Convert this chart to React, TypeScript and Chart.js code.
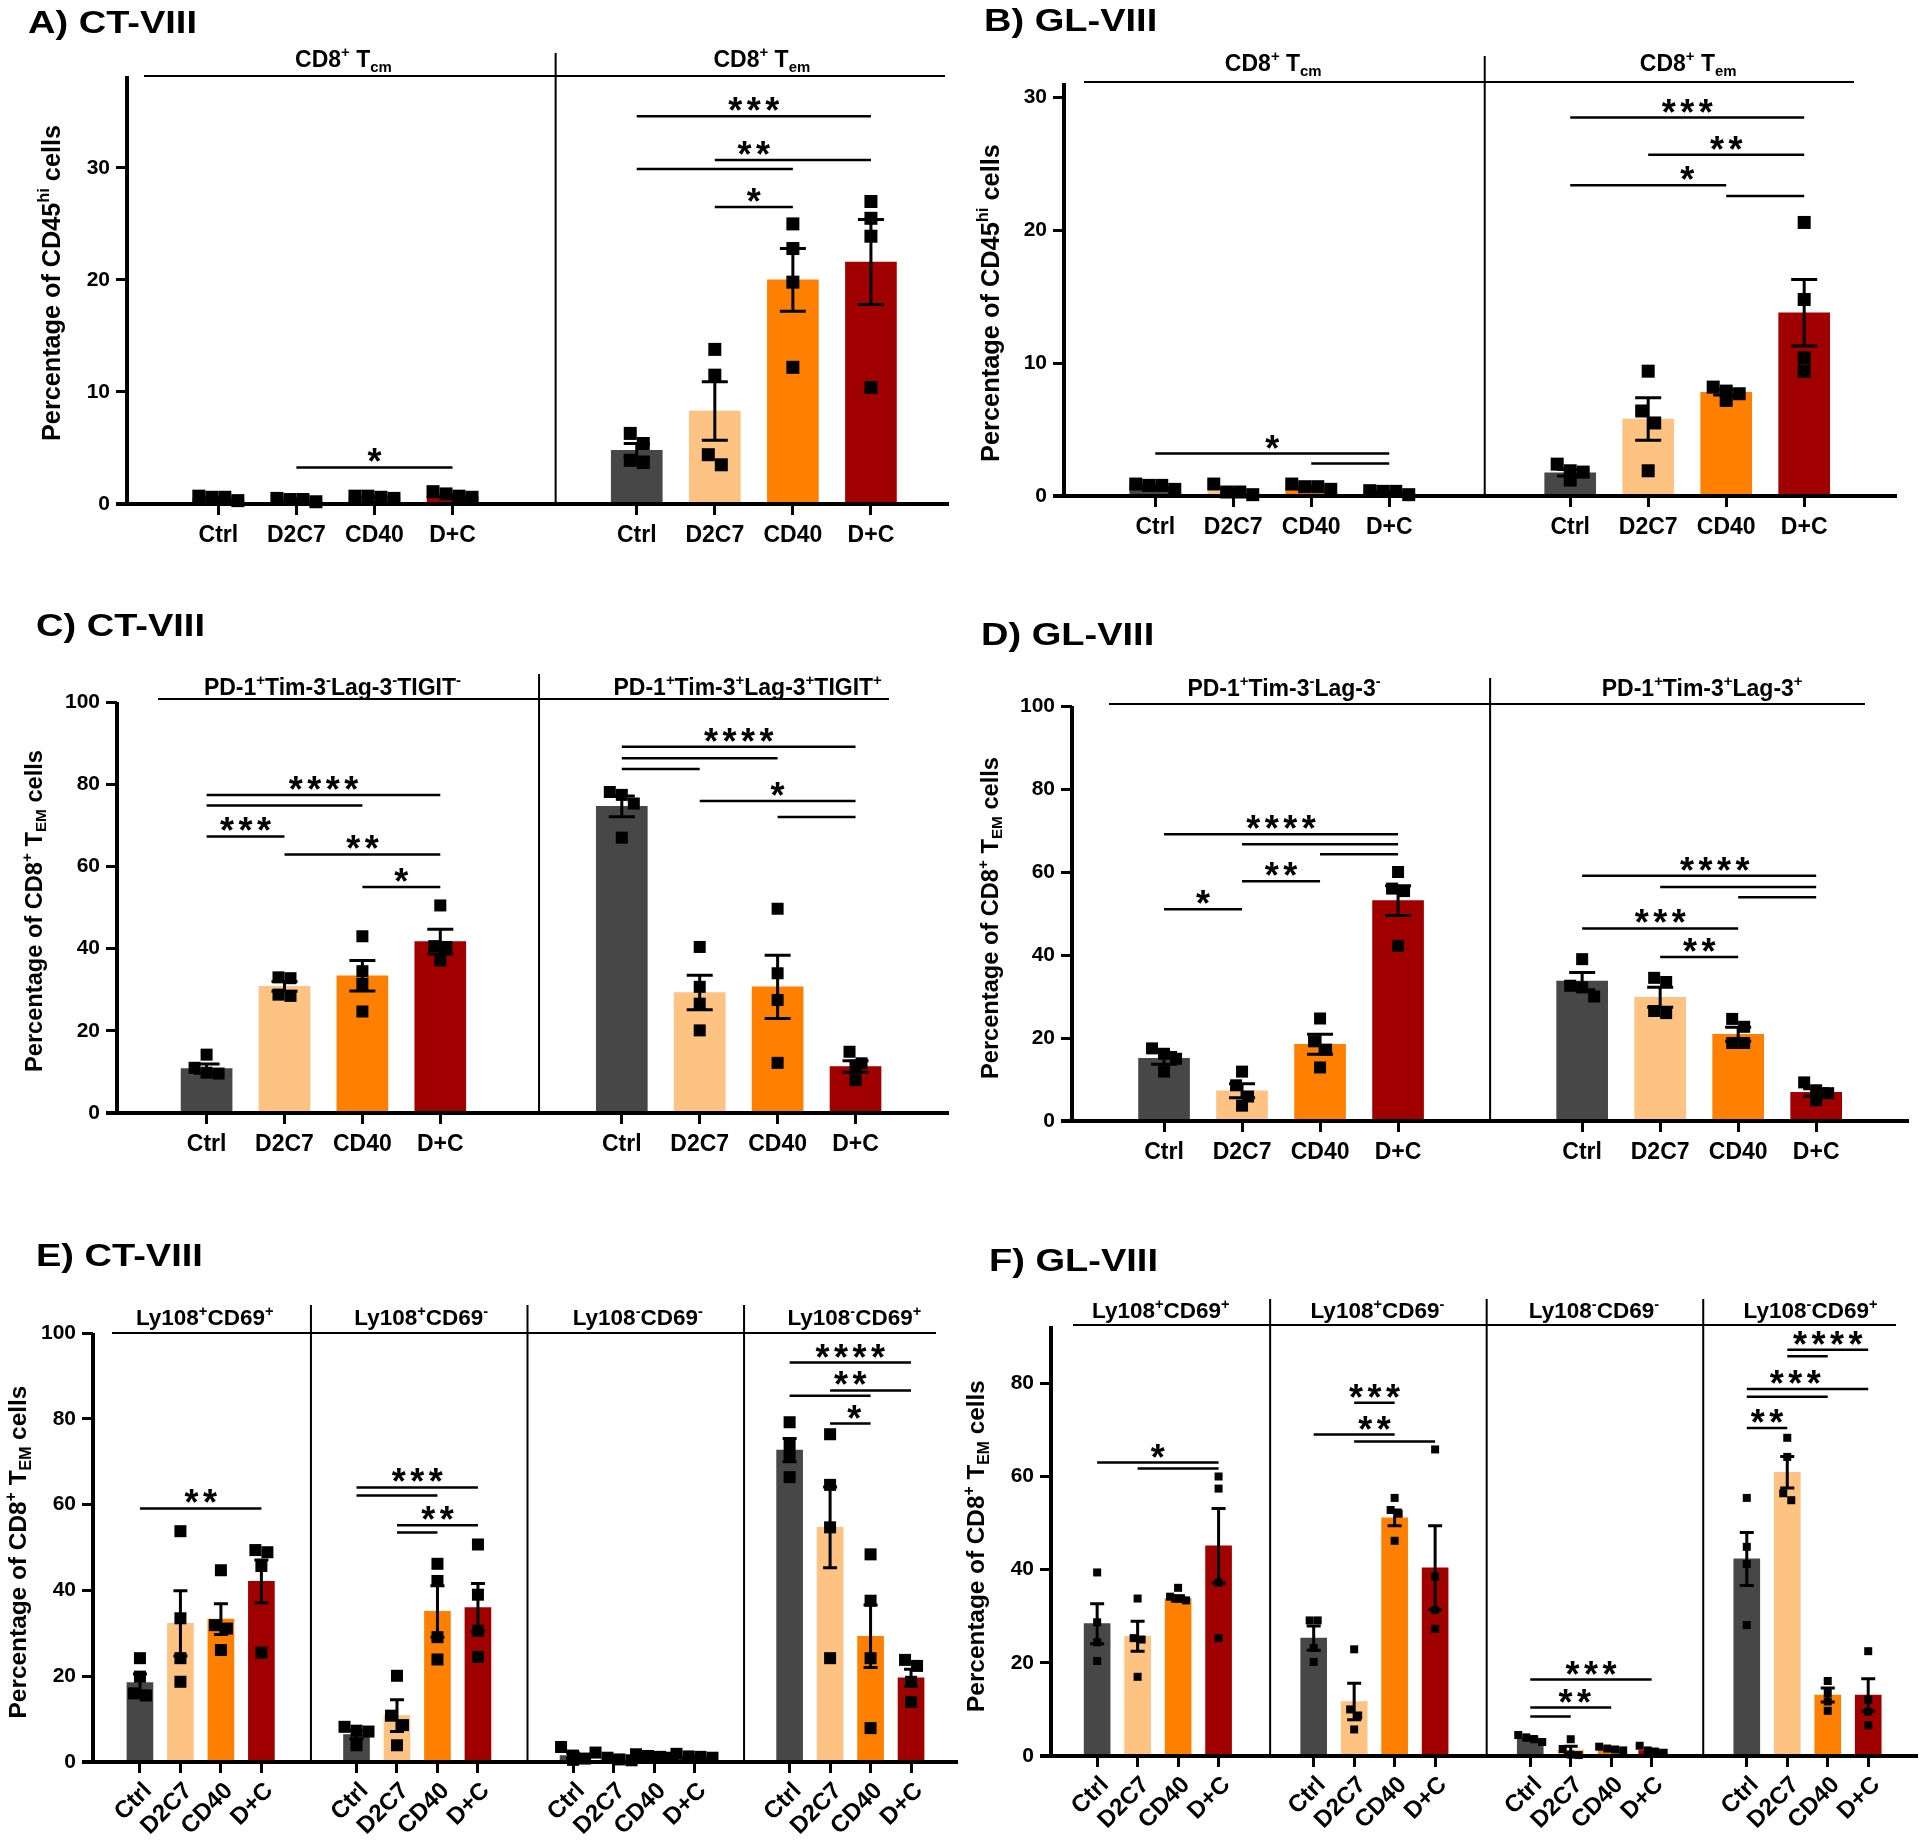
import React, { useEffect, useRef } from "react";
import { Chart, registerables } from "chart.js";
Chart.register(...registerables);

const FONT = "'Liberation Sans', Arial, Helvetica, sans-serif";
const TREATMENTS = ["Ctrl", "D2C7", "CD40", "D+C"];
const BAR_COLORS = ["#474747", "#FEC283", "#FF8000", "#A10000"];
const YTITLE_CD45 = "Percentage of CD45{^hi} cells";
const YTITLE_TEM = "Percentage of CD8{^+} T{_EM} cells";

// ---------- Panel A ----------
const A_TITLE = "A) CT-VIII";
const A_HEADERS = ["CD8{^+} T{_cm}", "CD8{^+} T{_em}"];
const A_YTICKS = [0, 10, 20, 30];
const A_MEAN = [[0.5, 0.4, 0.6, 0.7], [4.8, 8.3, 20.0, 21.6]];
const A_SEM = [[0.1, 0.1, 0.05, 0.15], [0.6, 2.6, 2.8, 3.8]];
const A_POINTS = [
  [[0.3, 0.7, 0.6, 0.6], [0.2, 0.5, 0.4, 0.4], [0.5, 0.7, 0.6, 0.7], [0.6, 1.1, 0.7, 0.9]],
  [[6.3, 5.4, 3.9, 3.7], [13.8, 11.5, 4.4, 3.5], [25.0, 22.8, 19.8, 12.2], [27.0, 25.5, 23.9, 10.4]],
];
const A_SIG = [[0, 1, 3, 3.26], [1, 0, 3, 34.6], [1, 1, 3, 30.7], [1, 0, 2, 29.9], [1, 1, 2, 26.5]];
const A_STARS: [number, number, number, string][] = [[0, 2, 3.26, "*"], [1, 1.5, 34.6, "***"], [1, 1.5, 30.7, "**"], [1, 1.5, 26.5, "*"]];

// ---------- Panel B ----------
const B_TITLE = "B) GL-VIII";
const B_HEADERS = ["CD8{^+} T{_cm}", "CD8{^+} T{_em}"];
const B_YTICKS = [0, 10, 20, 30];
const B_MEAN = [[0.7, 0.35, 0.6, 0.3], [1.75, 5.8, 7.8, 13.8]];
const B_SEM = [[0.1, 0.2, 0.1, 0.08], [0.25, 1.6, 0.2, 2.5]];
const B_POINTS = [
  [[0.5, 0.9, 0.8, 0.8], [0.1, 0.9, 0.3, 0.3], [0.5, 0.9, 0.7, 0.7], [0.1, 0.4, 0.35, 0.35]],
  [[2.4, 1.2, 1.9, 1.8], [9.4, 6.4, 5.5, 1.9], [8.2, 7.2, 7.9, 7.7], [20.6, 14.8, 10.4, 9.4]],
];
const B_SIG = [[0, 0, 3, 3.2], [0, 2, 3, 2.45], [1, 0, 3, 28.5], [1, 1, 3, 25.7], [1, 0, 2, 23.4], [1, 2, 3, 22.6]];
const B_STARS: [number, number, number, string][] = [[0, 1.5, 3.2, "*"], [1, 1.5, 28.5, "***"], [1, 2, 25.7, "**"], [1, 1.5, 23.4, "*"]];

// ---------- Panel C ----------
const C_TITLE = "C) CT-VIII";
const C_HEADERS = ["PD-1{^+}Tim-3{^-}Lag-3{^-}TIGIT{^-}", "PD-1{^+}Tim-3{^+}Lag-3{^+}TIGIT{^+}"];
const C_YTICKS = [0, 20, 40, 60, 80, 100];
const C_MEAN = [[10.8, 30.8, 33.4, 41.7], [74.6, 29.3, 30.7, 11.3]];
const C_SEM = [[1.1, 1.2, 3.7, 3.0], [2.5, 4.2, 7.7, 1.4]];
const C_POINTS = [
  [[14.2, 11.0, 9.8, 9.6], [33.0, 32.8, 28.8, 28.5], [43.0, 34.5, 31.4, 24.7], [50.5, 40.6, 40.4, 37.1]],
  [[78.1, 77.4, 75.3, 67.0], [40.4, 30.7, 26.6, 20.1], [49.7, 34.0, 27.5, 12.2], [14.9, 12.1, 11.5, 8.0]],
];
const C_SIG = [[0, 0, 3, 77.4], [0, 0, 2, 74.8], [0, 0, 1, 67.3], [0, 1, 3, 62.9], [0, 2, 3, 55.0], [1, 0, 3, 89.1], [1, 0, 2, 86.3], [1, 0, 1, 83.7], [1, 1, 3, 75.9], [1, 2, 3, 72.0]];
const C_STARS: [number, number, number, string][] = [[0, 1.5, 77.4, "****"], [0, 0.5, 67.3, "***"], [0, 2, 62.9, "**"], [0, 2.5, 55.0, "*"], [1, 1.5, 89.1, "****"], [1, 2, 75.9, "*"]];

// ---------- Panel D ----------
const D_TITLE = "D) GL-VIII";
const D_HEADERS = ["PD-1{^+}Tim-3{^-}Lag-3{^-}", "PD-1{^+}Tim-3{^+}Lag-3{^+}"];
const D_YTICKS = [0, 20, 40, 60, 80, 100];
const D_MEAN = [[15.1, 7.3, 18.5, 53.1], [33.7, 29.8, 20.9, 6.9]];
const D_SEM = [[1.4, 1.7, 2.4, 3.6], [2.1, 2.4, 1.7, 0.9]];
const D_POINTS = [
  [[17.5, 16.2, 15.0, 11.9], [11.9, 8.6, 5.9, 3.7], [24.7, 19.2, 17.2, 12.9], [60.0, 56.0, 55.4, 42.2]],
  [[39.0, 32.6, 32.2, 30.0], [34.5, 33.5, 26.0, 26.5], [24.6, 22.7, 18.8, 18.8], [9.3, 7.4, 6.7, 5.0]],
];
const D_SIG = [[0, 0, 3, 69.1], [0, 1, 3, 66.7], [0, 2, 3, 64.3], [0, 1, 2, 57.8], [0, 0, 1, 51.0], [1, 0, 3, 59.1], [1, 1, 3, 56.4], [1, 2, 3, 53.9], [1, 0, 2, 46.4], [1, 1, 2, 39.5]];
const D_STARS: [number, number, number, string][] = [[0, 1.5, 69.1, "****"], [0, 1.5, 57.8, "**"], [0, 0.5, 51.0, "*"], [1, 1.7, 59.1, "****"], [1, 1, 46.4, "***"], [1, 1.5, 39.5, "**"]];

// ---------- Panel E ----------
const E_TITLE = "E) CT-VIII";
const E_HEADERS = ["Ly108{^+}CD69{^+}", "Ly108{^+}CD69{^-}", "Ly108{^-}CD69{^-}", "Ly108{^-}CD69{^+}"];
const E_YTICKS = [0, 20, 40, 60, 80, 100];
const E_MEAN = [[18.5, 32.3, 33.3, 42.1], [6.4, 10.8, 35.1, 36.0], [1.5, 1.0, 1.3, 1.3], [72.7, 54.7, 29.3, 19.6]];
const E_SEM = [[2.0, 7.6, 3.6, 5.0], [1.0, 3.7, 6.0, 5.6], [0.6, 0.4, 0.2, 0.2], [2.7, 9.4, 7.3, 2.0]];
const E_POINTS = [
  [[24.2, 19.9, 16.0, 15.5], [53.8, 33.5, 24.2, 18.7], [44.7, 31.9, 31.1, 26.1], [49.4, 48.9, 45.7, 25.5]],
  [[8.2, 7.3, 7.1, 3.9], [20.1, 10.8, 8.6, 3.9], [46.2, 42.2, 29.1, 23.9], [50.7, 39.0, 30.6, 24.5]],
  [[3.5, 1.5, 0.8, 0.5], [2.2, 1.0, 0.6, 0.4], [1.8, 1.4, 1.2, 1.0], [1.9, 1.3, 1.2, 1.0]],
  [[79.2, 74.1, 71.3, 66.4], [76.4, 64.6, 54.7, 24.2], [48.4, 37.6, 24.2, 7.9], [23.8, 22.4, 18.7, 14.0]],
];
const E_SIG = [[0, 0, 3, 59.1], [1, 0, 3, 64.0], [1, 0, 2, 62.1], [1, 1, 3, 55.2], [1, 1, 2, 53.5], [3, 0, 3, 93.1], [3, 1, 3, 86.6], [3, 0, 2, 85.4], [3, 1, 2, 78.9]];
const E_STARS: [number, number, number, string][] = [[0, 1.5, 59.1, "**"], [1, 1.5, 64.0, "***"], [1, 2, 55.2, "**"], [3, 1.5, 93.1, "****"], [3, 1.5, 86.6, "**"], [3, 1.6, 78.9, "*"]];

// ---------- Panel F ----------
const F_TITLE = "F) GL-VIII";
const F_HEADERS = ["Ly108{^+}CD69{^+}", "Ly108{^+}CD69{^-}", "Ly108{^-}CD69{^-}", "Ly108{^-}CD69{^+}"];
const F_YTICKS = [0, 20, 40, 60, 80];
const F_MEAN = [[28.4, 25.7, 33.8, 45.1], [25.3, 11.7, 51.1, 40.4], [3.8, 1.3, 1.5, 1.2], [42.3, 60.9, 13.1, 13.1]];
const F_SEM = [[4.3, 3.2, 0.6, 8.0], [2.6, 3.9, 1.7, 9.0], [0.4, 0.8, 0.2, 0.3], [5.7, 3.4, 1.5, 3.5]];
const F_POINTS = [
  [[39.4, 28.7, 24.4, 20.4], [33.8, 25.3, 25.0, 17.0], [36.1, 34.2, 33.8, 33.4], [60.0, 57.4, 37.2, 25.3]],
  [[29.1, 29.1, 23.2, 20.2], [22.9, 10.0, 8.7, 5.7], [55.4, 52.8, 52.0, 46.2], [65.8, 38.5, 31.3, 27.3]],
  [[4.5, 4.0, 3.6, 3.0], [3.6, 1.5, 0.3, 0.2], [2.0, 1.6, 1.4, 1.2], [2.2, 1.2, 0.8, 0.7]],
  [[55.4, 44.9, 41.2, 28.1], [68.3, 64.2, 56.4, 54.9], [16.1, 13.5, 11.7, 9.7], [22.5, 12.1, 9.5, 6.6]],
];
const F_SIG = [[0, 0, 3, 63.0], [0, 1, 3, 61.7], [1, 1, 2, 75.8], [1, 0, 2, 69.0], [1, 1, 3, 67.5], [2, 0, 3, 16.4], [2, 0, 2, 10.4], [2, 0, 1, 8.5], [3, 1, 3, 87.2], [3, 1, 2, 85.8], [3, 0, 3, 78.8], [3, 0, 2, 77.1], [3, 0, 1, 70.4]];
const F_STARS: [number, number, number, string][] = [[0, 1.5, 63.0, "*"], [1, 1.5, 75.8, "***"], [1, 1.5, 69.0, "**"], [2, 1.5, 16.4, "***"], [2, 1.1, 10.4, "**"], [3, 2, 87.2, "****"], [3, 1.2, 78.8, "***"], [3, 0.5, 70.4, "**"]];

// ---------- layout (page pixel geometry) ----------
type Layout = {
  ox: number; oy: number; w: number; h: number;
  plot: [number, number, number, number];
  ymax: number; period: number; padL: number; padR: number;
  barW: number; pt: number; cap: number;
  title: [number, number]; yTitle: [number, number, number];
  hdrY: number; hdrLine: [number, number]; hdrBase: number; hdrShift: number; hdrFont: number;
  sepTop: number; sepShift: number; xFont: number; rot: number; xPad: number; xShift: number;
};

const LAYOUT_A: Layout = { ox: 0, oy: 0, w: 960, h: 600, plot: [127, 76, 949, 504], ymax: 38.2, period: 5.36, padL: 1.17, padR: 1.0, barW: 51, pt: 13, cap: 26, title: [28, 33], yTitle: [51, 283, 316], hdrY: 76, hdrLine: [144, 945], hdrBase: 67, hdrShift: 8, hdrFont: 23, sepTop: 53, sepShift: 11, xFont: 23, rot: 0, xPad: 7, xShift: 0 };
const LAYOUT_B: Layout = { ox: 960, oy: 0, w: 960, h: 600, plot: [1064, 83, 1897, 496], ymax: 31.1, period: 5.32, padL: 1.17, padR: 1.19, barW: 51, pt: 13, cap: 26, title: [984, 31], yTitle: [990, 303, 318], hdrY: 82, hdrLine: [1084, 1854], hdrBase: 71, hdrShift: 1, hdrFont: 23, sepTop: 56, sepShift: 5, xFont: 23, rot: 0, xPad: 7, xShift: 0 };
const LAYOUT_C: Layout = { ox: 0, oy: 600, w: 960, h: 620, plot: [117, 702, 949, 1113], ymax: 100, period: 5.33, padL: 1.15, padR: 1.2, barW: 51, pt: 12, cap: 26, title: [36, 636], yTitle: [33, 911, 322], hdrY: 699, hdrLine: [158, 889], hdrBase: 695, hdrShift: 9, hdrFont: 23, sepTop: 674, sepShift: 8, xFont: 23, rot: 0, xPad: 7, xShift: 0 };
const LAYOUT_D: Layout = { ox: 960, oy: 600, w: 960, h: 620, plot: [1072, 706, 1909, 1121], ymax: 100, period: 5.36, padL: 1.18, padR: 1.19, barW: 51, pt: 12, cap: 26, title: [981, 645], yTitle: [989, 918, 322], hdrY: 704, hdrLine: [1109, 1865], hdrBase: 696, hdrShift: 3, hdrFont: 23, sepTop: 678, sepShift: 0, xFont: 23, rot: 0, xPad: 7, xShift: 0 };
const LAYOUT_E: Layout = { ox: 0, oy: 1220, w: 960, h: 622, plot: [93, 1333, 958, 1762], ymax: 100, period: 5.35, padL: 1.16, padR: 1.16, barW: 26, pt: 12, cap: 14, title: [36, 1266], yTitle: [17, 1552, 333], hdrY: 1333, hdrLine: [112, 936], hdrBase: 1325, hdrShift: 4, hdrFont: 22.5, sepTop: 1305, sepShift: 2, xFont: 24, rot: 45, xPad: 4, xShift: 8 };
const LAYOUT_F: Layout = { ox: 960, oy: 1220, w: 960, h: 622, plot: [1051, 1326, 1918, 1756], ymax: 92.3, period: 5.35, padL: 1.14, padR: 1.23, barW: 26, pt: 8, cap: 14, title: [989, 1271], yTitle: [975, 1546, 332], hdrY: 1325, hdrLine: [1073, 1896], hdrBase: 1318, hdrShift: 3, hdrFont: 22.5, sepTop: 1299, sepShift: 4, xFont: 24, rot: 45, xPad: 4, xShift: 8 };

type PanelCfg = {
  title: string; headers: string[]; yTitle: string; yTicks: number[];
  mean: number[][]; sem: number[][]; points: number[][][];
  sig: number[][]; stars: [number, number, number, string][]; L: Layout;
};

const PANELS: PanelCfg[] = [
  { title: A_TITLE, headers: A_HEADERS, yTitle: YTITLE_CD45, yTicks: A_YTICKS, mean: A_MEAN, sem: A_SEM, points: A_POINTS, sig: A_SIG, stars: A_STARS, L: LAYOUT_A },
  { title: B_TITLE, headers: B_HEADERS, yTitle: YTITLE_CD45, yTicks: B_YTICKS, mean: B_MEAN, sem: B_SEM, points: B_POINTS, sig: B_SIG, stars: B_STARS, L: LAYOUT_B },
  { title: C_TITLE, headers: C_HEADERS, yTitle: YTITLE_TEM, yTicks: C_YTICKS, mean: C_MEAN, sem: C_SEM, points: C_POINTS, sig: C_SIG, stars: C_STARS, L: LAYOUT_C },
  { title: D_TITLE, headers: D_HEADERS, yTitle: YTITLE_TEM, yTicks: D_YTICKS, mean: D_MEAN, sem: D_SEM, points: D_POINTS, sig: D_SIG, stars: D_STARS, L: LAYOUT_D },
  { title: E_TITLE, headers: E_HEADERS, yTitle: YTITLE_TEM, yTicks: E_YTICKS, mean: E_MEAN, sem: E_SEM, points: E_POINTS, sig: E_SIG, stars: E_STARS, L: LAYOUT_E },
  { title: F_TITLE, headers: F_HEADERS, yTitle: YTITLE_TEM, yTicks: F_YTICKS, mean: F_MEAN, sem: F_SEM, points: F_POINTS, sig: F_SIG, stars: F_STARS, L: LAYOUT_F },
];

// ---------- rich text helpers ----------
type Seg = { t: string; k: "n" | "sup" | "sub" };
function parseRich(s: string): Seg[] {
  const out: Seg[] = [];
  const re = /\{([\^_])([^}]*)\}/g;
  let last = 0;
  let m: RegExpExecArray | null;
  while ((m = re.exec(s))) {
    if (m.index > last) out.push({ t: s.slice(last, m.index), k: "n" });
    out.push({ t: m[2], k: m[1] === "^" ? "sup" : "sub" });
    last = re.lastIndex;
  }
  if (last < s.length) out.push({ t: s.slice(last), k: "n" });
  return out;
}
function segFont(k: string, fs: number) {
  return `bold ${k === "n" ? fs : fs * 0.65}px ${FONT}`;
}
function richWidth(ctx: CanvasRenderingContext2D, segs: Seg[], fs: number) {
  let w = 0;
  for (const s of segs) { ctx.font = segFont(s.k, fs); w += ctx.measureText(s.t).width; }
  return w;
}
function drawRich(ctx: CanvasRenderingContext2D, segs: Seg[], x: number, y: number, fs: number) {
  const w = richWidth(ctx, segs, fs);
  let cx = x - w / 2;
  ctx.textAlign = "left";
  ctx.textBaseline = "alphabetic";
  for (const s of segs) {
    ctx.font = segFont(s.k, fs);
    const dy = s.k === "sup" ? -0.42 * fs : s.k === "sub" ? 0.2 * fs : 0;
    ctx.fillText(s.t, cx, y + dy);
    cx += ctx.measureText(s.t).width;
  }
}

const STAR_FS = 36;
const STAR_PITCH = 18.5;

function drawPanel(chart: any, cfg: PanelCfg) {
  const ctx: CanvasRenderingContext2D = chart.ctx;
  const xs = chart.scales.x;
  const ys = chart.scales.y;
  const L = cfg.L;
  const ca = chart.chartArea;
  const lx = (v: number) => v - L.ox;
  const ly = (v: number) => v - L.oy;
  const px = (g: number, i: number) => xs.getPixelForValue(g * L.period + i);
  const py = (v: number) => ys.getPixelForValue(v);
  const nG = cfg.mean.length;
  ctx.save();

  // scatter points (spread horizontally when overlapping)
  ctx.fillStyle = "#000";
  for (let g = 0; g < nG; g++) {
    for (let i = 0; i < 4; i++) {
      const cx = px(g, i);
      const vals = cfg.points[g][i].map((v) => ({ v, y: py(v) })).sort((a, b) => a.y - b.y);
      const rows: { v: number; y: number }[][] = [];
      for (const p of vals) {
        const r = rows[rows.length - 1];
        if (r && Math.abs(p.y - r[0].y) < L.pt) r.push(p);
        else rows.push([p]);
      }
      for (const r of rows) {
        r.forEach((p, j) => {
          const ox = (j - (r.length - 1) / 2) * L.pt;
          ctx.fillRect(cx + ox - L.pt / 2, p.y - L.pt / 2, L.pt, L.pt);
        });
      }
    }
  }

  // error bars
  ctx.strokeStyle = "#000";
  ctx.lineWidth = 3;
  for (let g = 0; g < nG; g++) {
    for (let i = 0; i < 4; i++) {
      const cx = px(g, i);
      const m = cfg.mean[g][i];
      const s = cfg.sem[g][i];
      const y1 = py(m + s);
      const y2 = py(Math.max(0, m - s));
      ctx.beginPath();
      ctx.moveTo(cx, y1); ctx.lineTo(cx, y2);
      ctx.moveTo(cx - L.cap / 2, y1); ctx.lineTo(cx + L.cap / 2, y1);
      ctx.moveTo(cx - L.cap / 2, y2); ctx.lineTo(cx + L.cap / 2, y2);
      ctx.stroke();
    }
  }

  // axes
  ctx.lineWidth = 4;
  ctx.beginPath();
  ctx.moveTo(ca.left, ca.top); ctx.lineTo(ca.left, ca.bottom + 2);
  ctx.moveTo(ca.left - 11, ca.bottom); ctx.lineTo(ca.right, ca.bottom);
  ctx.stroke();

  // header line and separators
  ctx.lineWidth = 2;
  ctx.beginPath();
  ctx.moveTo(lx(L.hdrLine[0]), ly(L.hdrY)); ctx.lineTo(lx(L.hdrLine[1]), ly(L.hdrY));
  for (let g = 1; g < nG; g++) {
    const sx = (px(g - 1, 3) + px(g, 0)) / 2 + L.sepShift;
    ctx.moveTo(sx, ly(L.sepTop)); ctx.lineTo(sx, ca.bottom);
  }
  ctx.stroke();

  // header labels
  ctx.fillStyle = "#000";
  for (let g = 0; g < nG; g++) {
    const cx = (px(g, 0) + px(g, 3)) / 2 + L.hdrShift;
    drawRich(ctx, parseRich(cfg.headers[g]), cx, ly(L.hdrBase), L.hdrFont);
  }

  // significance lines
  ctx.lineWidth = 2.5;
  ctx.beginPath();
  for (const [g, a, b, v] of cfg.sig) {
    const y = py(v);
    ctx.moveTo(px(g, a), y); ctx.lineTo(px(g, b), y);
  }
  ctx.stroke();

  // stars
  ctx.font = `bold ${STAR_FS}px ${FONT}`;
  ctx.textAlign = "center";
  ctx.textBaseline = "alphabetic";
  const sm = ctx.measureText("*");
  const above = -sm.actualBoundingBoxDescent;
  for (const [g, xi, v, txt] of cfg.stars) {
    const cx = xs.getPixelForValue(g * L.period + xi);
    const base = py(v) - 5 + above;
    const n = txt.length;
    for (let j = 0; j < n; j++) ctx.fillText("*", cx + (j - (n - 1) / 2) * STAR_PITCH, base);
  }

  // panel title
  ctx.font = `bold 32px ${FONT}`;
  ctx.textAlign = "left";
  const tw = ctx.measureText("A) CT-VIII").width;
  const sx = 169 / tw;
  ctx.save();
  ctx.translate(lx(L.title[0]), ly(L.title[1]));
  ctx.scale(sx, 1);
  ctx.fillText(cfg.title, 0, 0);
  ctx.restore();

  // y-axis title
  const segs = parseRich(cfg.yTitle);
  const w100 = richWidth(ctx, segs, 100);
  const fs = (100 * L.yTitle[2]) / w100;
  ctx.save();
  ctx.translate(lx(L.yTitle[0]), ly(L.yTitle[1]));
  ctx.rotate(-Math.PI / 2);
  drawRich(ctx, segs, 0, 0.36 * fs, fs);
  ctx.restore();

  ctx.restore();
}

function Panel({ cfg }: { cfg: PanelCfg }) {
  const ref = useRef<HTMLCanvasElement>(null);
  useEffect(() => {
    const L = cfg.L;
    const nG = cfg.mean.length;
    const positions: number[] = [];
    const labels: string[] = [];
    const bars: { x: number; y: number }[] = [];
    const colors: string[] = [];
    for (let g = 0; g < nG; g++) {
      for (let i = 0; i < 4; i++) {
        const p = g * L.period + i;
        positions.push(p);
        labels.push(TREATMENTS[i]);
        bars.push({ x: p, y: cfg.mean[g][i] });
        colors.push(BAR_COLORS[i]);
      }
    }
    const xmin = -L.padL;
    const xmax = (nG - 1) * L.period + 3 + L.padR;
    const pl = L.plot[0] - L.ox;
    const pt = L.plot[1] - L.oy;
    const pr = L.plot[2] - L.ox;
    const pb = L.plot[3] - L.oy;
    const chart = new Chart(ref.current as HTMLCanvasElement, {
      type: "bar",
      data: {
        datasets: [
          {
            data: bars as any,
            backgroundColor: colors,
            borderWidth: 0,
            barThickness: L.barW,
          } as any,
        ],
      },
      options: {
        animation: false,
        responsive: false,
        devicePixelRatio: 1,
        events: [],
        layout: { padding: { left: 0, top: pt, right: L.w - pr, bottom: 0 } },
        plugins: { legend: { display: false }, tooltip: { enabled: false }, title: { display: false } },
        scales: {
          x: {
            type: "linear",
            min: xmin,
            max: xmax,
            offset: false,
            afterBuildTicks: (s: any) => { s.ticks = positions.map((v) => ({ value: v })); },
            afterFit: (s: any) => { s.height = L.h - pb; },
            grid: { display: true, drawOnChartArea: false, drawTicks: true, tickLength: 11, tickWidth: 3, tickColor: "#000", offset: false },
            border: { display: false },
            ticks: {
              autoSkip: false,
              maxRotation: L.rot,
              minRotation: L.rot,
              padding: L.xPad,
              labelOffset: L.xShift,
              color: "#000",
              font: { family: FONT, size: L.xFont, weight: "bold" },
              callback: (_v: any, i: number) => labels[i],
            },
          } as any,
          y: {
            type: "linear",
            min: 0,
            max: L.ymax,
            afterBuildTicks: (s: any) => { s.ticks = cfg.yTicks.map((v) => ({ value: v })); },
            afterFit: (s: any) => { s.width = pl; },
            grid: { display: true, drawOnChartArea: false, drawTicks: true, tickLength: 11, tickWidth: 3, tickColor: "#000" },
            border: { display: false },
            ticks: { padding: 6, color: "#000", font: { family: FONT, size: 21, weight: "bold" } },
          } as any,
        },
      },
      plugins: [{ id: "panelDecor", afterDraw: (c: any) => drawPanel(c, cfg) }],
    } as any);
    return () => chart.destroy();
  }, [cfg]);
  const L = cfg.L;
  return (
    <canvas
      ref={ref}
      width={L.w}
      height={L.h}
      style={{ position: "absolute", left: L.ox, top: L.oy, width: L.w, height: L.h, display: "block" }}
    />
  );
}

export default function App() {
  return (
    <div style={{ position: "absolute", left: 0, top: 0, width: 1920, height: 1842, background: "#fff", overflow: "hidden" }}>
      {PANELS.map((p, k) => (
        <Panel key={k} cfg={p} />
      ))}
    </div>
  );
}
